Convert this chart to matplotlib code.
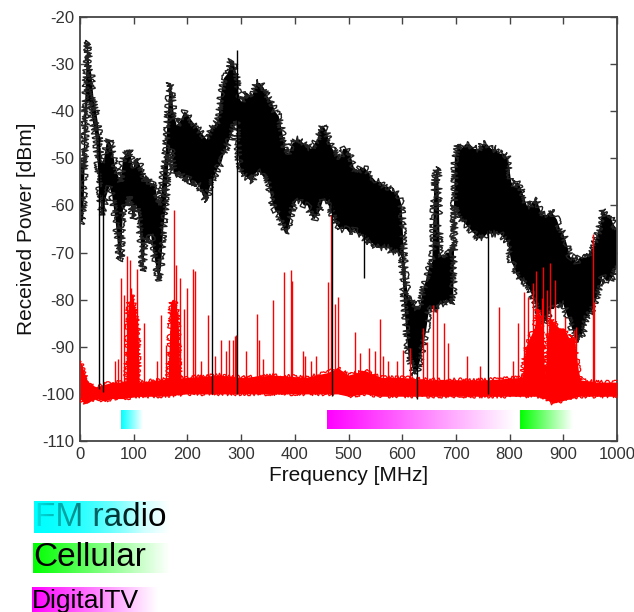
import numpy as np
import matplotlib
matplotlib.use("Agg")
import matplotlib.pyplot as plt
from matplotlib.colors import to_rgb

plt.rcParams['font.family'] = ['Liberation Sans', 'DejaVu Sans']
plt.rcParams['axes.unicode_minus'] = False

# ---------------- data ----------------
# black trace: envelope of the received power (freq MHz, upper dBm, lower dBm)
blk_f = [0, 6, 9, 12, 14, 17, 21, 25, 30, 34, 40, 45, 49, 55, 60, 66, 72, 76, 80, 86,
         92, 99, 105, 110, 117, 122, 127, 132, 137, 142, 146, 151, 155, 160, 164, 167,
         170, 174, 180, 187, 195, 202, 208, 215, 222, 229, 236, 242, 250, 257, 263, 268,
         275, 282, 287, 291, 295, 300, 310, 320, 328, 335, 342, 350, 357, 363, 370, 376,
         382, 388, 395, 403, 410, 417, 424, 430, 436, 442, 447, 452, 458, 463, 470, 477,
         484, 490, 496, 503, 510, 516, 522, 530, 537, 544, 552, 560, 567, 574, 580, 587,
         594, 599, 603, 607, 612, 618, 623, 628, 633, 638, 644, 650, 656, 660, 663, 667,
         670, 676, 682, 690, 695, 698, 703, 710, 718, 726, 734, 742, 750, 758, 766, 774,
         782, 790, 797, 803, 808, 814, 820, 826, 832, 838, 845, 851, 857, 863, 870, 876,
         882, 888, 894, 900, 906, 913, 919, 925, 931, 937, 943, 949, 955, 961, 967, 973,
         980, 987, 993, 1000]
blk_hi = [-50, -52, -40, -30, -25, -30, -32, -37, -40, -43, -51, -50, -47, -46, -48, -52,
          -54, -55, -50, -49, -48, -52, -50, -51, -53, -55, -54, -56, -55, -57, -60, -58,
          -53, -48, -40, -34, -35, -40, -43, -42, -40, -41, -42, -43, -44, -45, -46, -44,
          -43, -42, -36, -33, -32, -29, -30, -32, -36, -38, -36, -37, -34, -34, -35, -37,
          -38, -40, -41, -44, -48, -49, -47, -46, -46, -47, -47, -48, -47, -46, -44, -43,
          -44, -46, -48, -49, -50, -48, -48, -49, -52, -53, -52, -52, -53, -54, -55, -55,
          -56, -56, -57, -57, -58, -60, -70, -76, -80, -80, -81, -82, -82, -78, -76, -73,
          -72, -54, -53, -52, -70, -71, -70, -70, -69, -50, -47, -48, -47, -47, -48, -48,
          -47, -47, -48, -48, -49, -49, -50, -55, -56, -55, -56, -58, -60, -60, -59, -59,
          -61, -62, -62, -61, -62, -63, -65, -66, -68, -71, -71, -72, -71, -71, -71, -70,
          -69, -67, -65, -61, -62, -62, -64, -65]
blk_lo = [-64, -63, -50, -40, -38, -38, -40, -43, -46, -53, -62, -60, -58, -56, -58, -63,
          -70, -72, -61, -60, -58, -63, -60, -63, -74, -67, -68, -66, -70, -73, -76, -73,
          -65, -60, -52, -49, -48, -53, -54, -53, -55, -54, -56, -55, -56, -58, -59, -56,
          -54, -52, -51, -49, -47, -45, -43, -42, -50, -53, -54, -55, -53, -53, -54, -55,
          -59, -61, -62, -64, -66, -65, -61, -59, -59, -60, -60, -62, -63, -62, -61, -59,
          -59, -60, -62, -64, -65, -65, -65, -66, -65, -66, -66, -67, -68, -68, -69, -69,
          -69, -69, -70, -70, -70, -71, -80, -86, -92, -94, -96, -95, -93, -90, -87, -82,
          -82, -82, -82, -82, -81, -81, -80, -81, -80, -60, -62, -63, -64, -65, -66, -67,
          -67, -66, -66, -66, -66, -67, -68, -72, -73, -75, -76, -76, -77, -78, -80, -82,
          -83, -85, -84, -82, -82, -81, -81, -81, -83, -85, -87, -89, -88, -87, -84, -83,
          -82, -80, -78, -75, -76, -76, -75, -73]

# black narrow dips (freq, top, bottom)
dip_f = [34.8, 43.5, 246, 292, 470, 528, 627, 759]
dip_top = [-45, -55, -50, -27, -50, -60, -90, -55]
dip_bot = [-99, -99.5, -100, -100, -100.5, -75.5, -101, -100]

# red trace: noise floor band (freq, upper, lower)
red_f = [0, 4, 8, 13, 20, 30, 45, 60, 80, 110, 150, 200, 260, 300, 360, 420, 460, 480,
         500, 530, 560, 600, 650, 700, 760, 820, 850, 866, 880, 930, 960, 1000]
red_hi = [-93, -94, -95.5, -97, -98, -98.5, -98, -97.5, -97.5, -97.5, -97, -96.5, -96,
          -96.5, -96, -96.5, -95.5, -94.5, -96, -95, -96.5, -96.5, -97, -97, -97, -96.5,
          -95, -97, -95, -97, -97.5, -97.5]
red_lo = [-101, -101.5, -102, -102, -101.5, -101, -101.5, -101, -101, -100.5, -100.5,
          -100, -100, -100, -100, -100, -100, -100, -100.5, -100, -100.5, -100.5, -100.5,
          -100.5, -100.5, -100.5, -100.5, -101, -102, -100.5, -100.5, -100.5]

# red dense (filled) bands of strong signals
fm_f = [86, 88, 90, 93, 96, 99, 102, 105, 108, 110]
fm_top = [-97, -85, -81, -80, -79, -80, -82, -84, -86, -97]
vhf_f = [164, 166, 169, 172, 176, 180, 183, 186]
vhf_top = [-97, -90, -81, -80, -80, -82, -85, -97]
cel_f = [824, 830, 838, 846, 852, 858, 862, 866, 870, 876, 884, 892, 900, 910, 920, 928, 932]
cel_top = [-96, -90, -88, -86, -82, -84, -90, -97, -88, -84, -85, -86, -86, -88, -88, -95, -97]

# red spikes (freq, peak dBm)
spk_f = [66, 71, 76, 82, 87.5, 92.5, 95.6, 98.7, 102, 106, 120, 144, 151, 161, 170, 175,
         179, 186, 194, 199, 210, 215, 225, 238, 251, 263, 272, 278, 284, 288, 291, 310,
         329, 334, 341, 359, 380, 392, 395, 416, 419, 431, 440, 462, 467, 475, 481, 512,
         521, 539, 549, 559, 565, 574, 590, 602, 614, 638, 646, 657, 664, 677, 686, 720,
         745, 780, 807, 816, 826, 834, 844, 849, 860, 863, 869, 876, 884, 903, 919, 923,
         956, 958]
spk_top = [-93, -92.5, -75.5, -79, -70.8, -71.6, -77.6, -79.7, -82, -73.4, -85, -93, -83.3,
           -89.6, -80.4, -61, -72.7, -75.5, -81.9, -77.6, -73.4, -74, -93, -83.3, -92,
           -88.6, -91, -88.6, -88.5, -87.7, -87.5, -91, -83, -88.6, -92.7, -80, -74.2,
           -73.7, -76, -91, -92, -93, -92, -76.2, -62, -81, -79.4, -86.8, -91.4, -90.3,
           -91, -84, -92, -93, -93, -90.7, -90.3, -86, -89, -81.2, -82, -85, -89.3, -92,
           -94, -81.6, -93, -85, -78.3, -79.4, -76.5, -74, -79.7, -73, -78, -72.3, -75.8,
           -83.6, -86.4, -85.7, -66, -80.4]

# service bands shown under the traces
band_names = ['FM radio', 'DigitalTV', 'Cellular']
band_start = [76, 460, 820]
band_end = [116, 810, 918]
band_colors = ['#00ffff', '#ff00ff', '#00ff00']

xticks = [0, 100, 200, 300, 400, 500, 600, 700, 800, 900, 1000]
yticks = [-110, -100, -90, -80, -70, -60, -50, -40, -30, -20]

# ---------------- figure ----------------
W, H = 634, 612
fig = plt.figure(figsize=(W / 100, H / 100), dpi=100)
ax = fig.add_axes([80 / W, 1 - 441 / H, 537 / W, 424 / H])


def gradient(color, n=256, fade_alpha=False):
    c = np.array(to_rgb(color))
    t = np.linspace(0, 1, n)[None, :, None]
    rgb = c[None, None, :] * (1 - t) + np.ones(3)[None, None, :] * t
    if fade_alpha:
        a = np.clip(1 - np.linspace(0, 1, n) * 1.25, 0, 1)[None, :, None] * 0.9
        return np.concatenate([c[None, None, :].repeat(n, axis=1), a], axis=2)
    return rgb


# black trace: solid band plus sketchy outline (noisy whisker look)
ax.fill_between(blk_f, blk_lo, blk_hi, facecolor='black', lw=0, zorder=2)
for env in (blk_hi, blk_lo):
    ln, = ax.plot(blk_f, env, color='#222222', lw=1.0, zorder=2)
    ln.set_sketch_params(scale=3.5, length=1.2, randomness=1.5)

# red floor, dense areas and spikes
ax.fill_between(red_f, red_lo, red_hi, color='red', lw=0, zorder=3)
for env in (red_hi, red_lo):
    ln, = ax.plot(red_f, env, color='red', lw=0.9, zorder=3)
    ln.set_sketch_params(scale=1.8, length=1.2, randomness=1.5)
for fx, tx in ((fm_f, fm_top), (vhf_f, vhf_top), (cel_f, cel_top)):
    ax.fill_between(fx, -98, tx, color='red', lw=0, zorder=3)
    ln, = ax.plot(fx, tx, color='red', lw=0.9, zorder=3)
    ln.set_sketch_params(scale=2.5, length=1.2, randomness=1.5)
ax.vlines(spk_f, -98, spk_top, color='red', lw=1.0, zorder=3)
# black narrow dips
ax.vlines(dip_f, dip_bot, dip_top, color='black', lw=1.0, zorder=4)

# bands under traces
for s, e, c in zip(band_start, band_end, band_colors):
    ax.imshow(gradient(c), extent=(s, e, -107.5, -103.5), aspect='auto',
              interpolation='bilinear', zorder=2)

ax.set_xlim(0, 1000)
ax.set_ylim(-110, -20)
ax.set_xticks(xticks)
ax.set_yticks(yticks)
ax.tick_params(direction='in', top=True, right=True, length=5, width=1,
               color='#444444', labelcolor='#333333', labelsize=12, pad=4)
for sp in ax.spines.values():
    sp.set_color('#444444')
    sp.set_linewidth(1.3)
ax.set_xlabel('Frequency [MHz]', fontsize=15, color='#111111', labelpad=3)
ax.set_ylabel('Received Power [dBm]', fontsize=15, color='#111111', labelpad=4)

# legend-like labels below the chart (pixel coordinates)
lax = fig.add_axes([0, 0, 1, 1], zorder=5)
lax.set_xlim(0, W)
lax.set_ylim(H, 0)
lax.axis('off')
lax.patch.set_alpha(0)

# FM radio: gradient behind, text, then faded overlay
lax.imshow(gradient('#00ffff'), extent=(34, 170, 533, 501), aspect='auto', interpolation='bilinear')
lax.text(35, 518, 'FM radio', fontsize=24, color='black', va='center', ha='left')
lax.imshow(gradient('#00ffff', fade_alpha=True), extent=(34, 170, 533, 501), aspect='auto',
           interpolation='bilinear', zorder=6)
# Cellular
lax.imshow(gradient('#00ff00'), extent=(33, 170, 573, 543), aspect='auto', interpolation='bilinear')
lax.text(33, 558, 'Cellular', fontsize=24, color='black', va='center', ha='left')
# DigitalTV
lax.imshow(gradient('#ff00ff'), extent=(32, 158, 616, 587), aspect='auto', interpolation='bilinear')
lax.text(32, 601, 'DigitalTV', fontsize=19, color='black', va='center', ha='left')
lax.set_xlim(0, W)
lax.set_ylim(H, 0)

fig.savefig('out.png', dpi=100)
